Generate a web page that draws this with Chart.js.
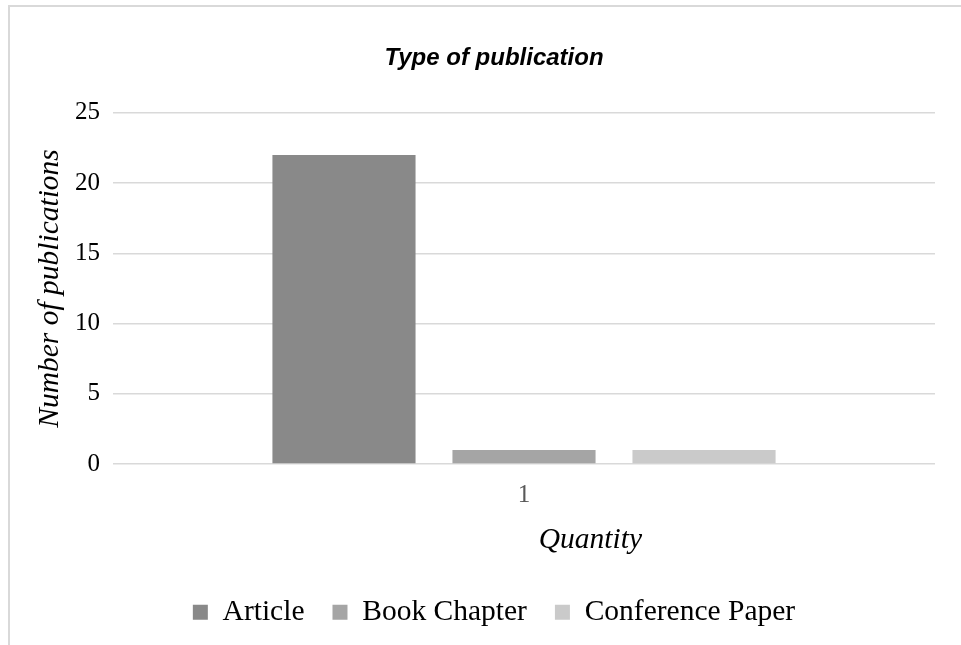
<!DOCTYPE html>
<html>
<head>
<meta charset="utf-8">
<script src="https://cdn.jsdelivr.net/npm/chart.js@4"></script>
<style>
  html, body { margin: 0; padding: 0; background: #fff; }
  #wrap { position: relative; width: 961px; height: 645px; }
</style>
</head>
<body>
<div id="wrap"><canvas id="pubChart"></canvas></div>
<script>
const categories = ['1'];
const seriesNames = ['Article', 'Book Chapter', 'Conference Paper'];
const articleValues = [22];
const bookChapterValues = [1];
const conferenceValues = [1];
const yTicks = [0, 5, 10, 15, 20, 25];

const colors = ['#898989', '#a5a5a5', '#cacaca'];
const serif = '"Liberation Serif", "Times New Roman", serif';

// thin frame lines like the exported chart box
const frame = {
    id: 'frame',
    beforeDraw(chart) {
        const c = chart.ctx;
        c.save();
        c.fillStyle = '#fff';
        c.fillRect(0, 0, chart.width, chart.height);
        c.strokeStyle = '#d9d9d9';
        c.lineWidth = 2;
        c.beginPath();
        c.moveTo(9, chart.height);
        c.lineTo(9, 6);
        c.lineTo(chart.width, 6);
        c.stroke();
        c.restore();
    }
};

const ctx = document.getElementById('pubChart').getContext('2d');
new Chart(ctx, {
    type: 'bar',
    data: {
        labels: categories,
        datasets: [
            { label: seriesNames[0], data: articleValues, backgroundColor: colors[0] },
            { label: seriesNames[1], data: bookChapterValues, backgroundColor: colors[1] },
            { label: seriesNames[2], data: conferenceValues, backgroundColor: colors[2] }
        ]
    },
    options: {
        responsive: true,
        maintainAspectRatio: false,
        animation: false,
        categoryPercentage: 0.657,
        barPercentage: 0.795,
        layout: { padding: { left: 53, right: 26, top: 0, bottom: 8 } },
        plugins: {
            tooltip: { enabled: false },
            title: {
                display: true,
                text: 'Type of publication',
                color: '#000',
                font: { family: '"Liberation Sans", Arial, sans-serif', size: 24, weight: 'bold', style: 'italic' },
                padding: { top: 44, bottom: 40 }
            },
            legend: {
                position: 'bottom',
                labels: {
                    color: '#000',
                    boxWidth: 15,
                    boxHeight: 15,
                    padding: 28,
                    font: { family: serif, size: 29.5 }
                }
            }
        },
        scales: {
            x: {
                grid: { display: false },
                border: { display: false },
                ticks: {
                    color: '#595959',
                    padding: 8,
                    font: { family: serif, size: 25 }
                },
                title: {
                    display: true,
                    // Excel places the axis title right of centre
                    text: '                  Quantity',
                    color: '#000',
                    padding: { top: 4, bottom: 12 },
                    font: { family: serif, size: 29.5, style: 'italic' }
                }
            },
            y: {
                min: 0,
                max: 25,
                afterBuildTicks(axis) { axis.ticks = yTicks.map(v => ({ value: v })); },
                afterFit(axis) { axis.width = 60; },
                grid: { color: '#d9d9d9', lineWidth: 1.5, drawTicks: false },
                border: { display: false },
                ticks: {
                    color: '#000',
                    padding: 13,
                    font: { family: serif, size: 25 }
                },
                title: {
                    display: true,
                    text: 'Number of publications',
                    color: '#000',
                    padding: { top: -20, bottom: 0 },
                    font: { family: serif, size: 29.5, style: 'italic' }
                }
            }
        }
    },
    plugins: [frame]
});
</script>
</body>
</html>
